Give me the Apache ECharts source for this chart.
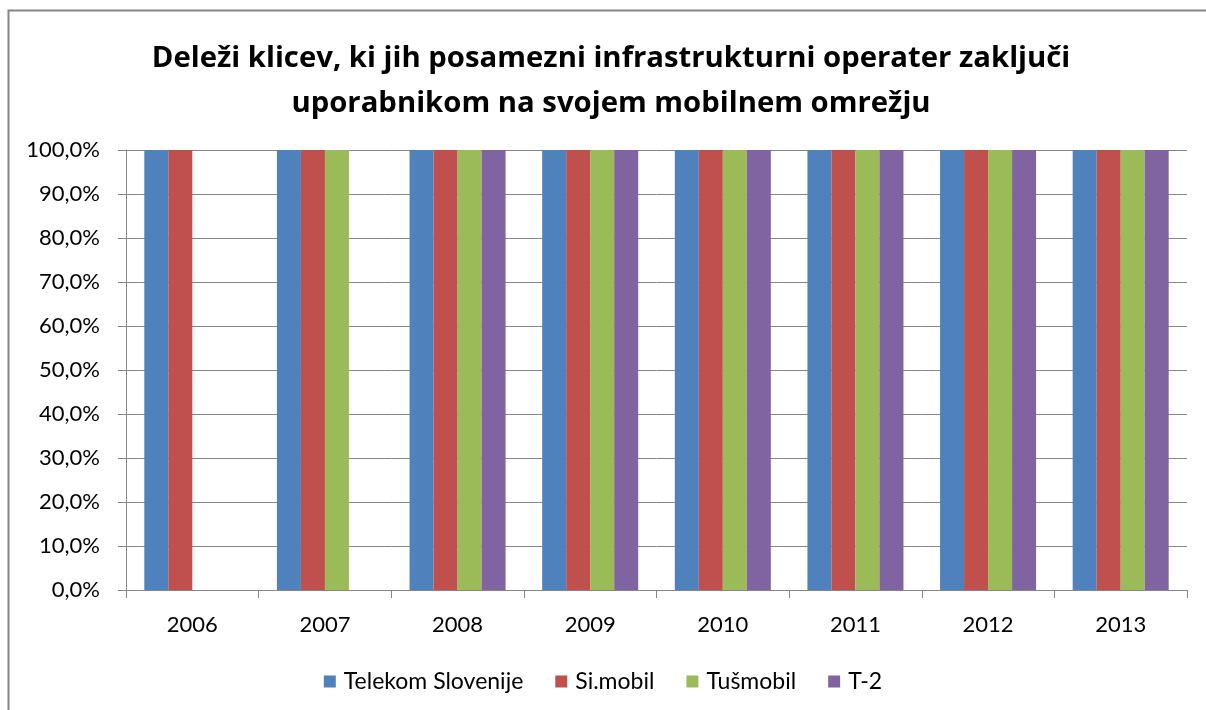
<!DOCTYPE html>
<html>
<head>
<meta charset="utf-8">
<script src="https://cdn.jsdelivr.net/npm/echarts@6/dist/echarts.min.js"></script>
<style>
    html, body {margin:0; padding:0; background:#fff;}
    #main {width:1206px; height:710px;}
</style>
</head>
<body>
<div id="main"></div>
<script>
// podatki
const years = ['2006', '2007', '2008', '2009', '2010', '2011', '2012', '2013'];
const telekom = [100, 100, 100, 100, 100, 100, 100, 100];
const simobil = [100, 100, 100, 100, 100, 100, 100, 100];
const tusmobil = [null, 100, 100, 100, 100, 100, 100, 100];
const t2 = [null, null, 100, 100, 100, 100, 100, 100];
const seriesNames = ['Telekom Slovenije', 'Si.mobil', 'Tušmobil', 'T-2'];
const colors = ['#4F81BD', '#C0504D', '#9BBB59', '#8064A2'];

const font = 'Lato, "Open Sans", sans-serif';
let myChart = echarts.init(document.getElementById('main'));

function makeSeries(name, data, color) {
    return {
        name: name,
        type: 'bar',
        data: data,
        barGap: '0%',
        barCategoryGap: '27.6%',
        itemStyle: {color: color},
        emphasis: {disabled: true}
    };
}

myChart.setOption({
    animation: false,
    backgroundColor: '#fff',
    graphic: [{
        type: 'rect',
        shape: {x: 8.5, y: 10.5, width: 1300, height: 800},
        style: {fill: 'none', stroke: '#868686', lineWidth: 2}
    }],
    title: {
        text: 'Deleži klicev, ki jih posamezni infrastrukturni operater zaključi\nuporabnikom na svojem mobilnem omrežju',
        left: 606,
        textAlign: 'center',
        top: 31,
        textStyle: {
            fontFamily: '"Open Sans", Lato, sans-serif',
            fontWeight: 'bold',
            fontSize: 29.3,
            lineHeight: 45,
            color: '#000'
        }
    },
    legend: {
        data: seriesNames,
        top: 665,
        left: 'center',
        itemWidth: 12,
        itemHeight: 12,
        itemGap: 32,
        icon: 'rect',
        textStyle: {fontFamily: font, fontSize: 23, color: '#000', padding: [0, 0, 0, 3]}
    },
    grid: {
        left: 126,
        right: 19,
        top: 150,
        bottom: 120,
        containLabel: false
    },
    xAxis: {
        type: 'category',
        data: years,
        axisLine: {lineStyle: {color: '#868686'}},
        axisTick: {show: true, length: 8, lineStyle: {color: '#868686'}},
        axisLabel: {fontFamily: font, fontSize: 22, color: '#000', margin: 24}
    },
    yAxis: {
        type: 'value',
        min: 0,
        max: 100,
        interval: 10,
        axisLine: {show: true, lineStyle: {color: '#868686'}},
        axisTick: {show: true, length: 8, lineStyle: {color: '#868686'}},
        splitLine: {lineStyle: {color: '#868686'}},
        axisLabel: {
            fontFamily: font,
            fontSize: 22,
            color: '#000',
            margin: 26,
            formatter: v => v.toFixed(1).replace('.', ',') + '%'
        }
    },
    series: [
        makeSeries(seriesNames[0], telekom, colors[0]),
        makeSeries(seriesNames[1], simobil, colors[1]),
        makeSeries(seriesNames[2], tusmobil, colors[2]),
        makeSeries(seriesNames[3], t2, colors[3])
    ]
});
</script>
</body>
</html>
